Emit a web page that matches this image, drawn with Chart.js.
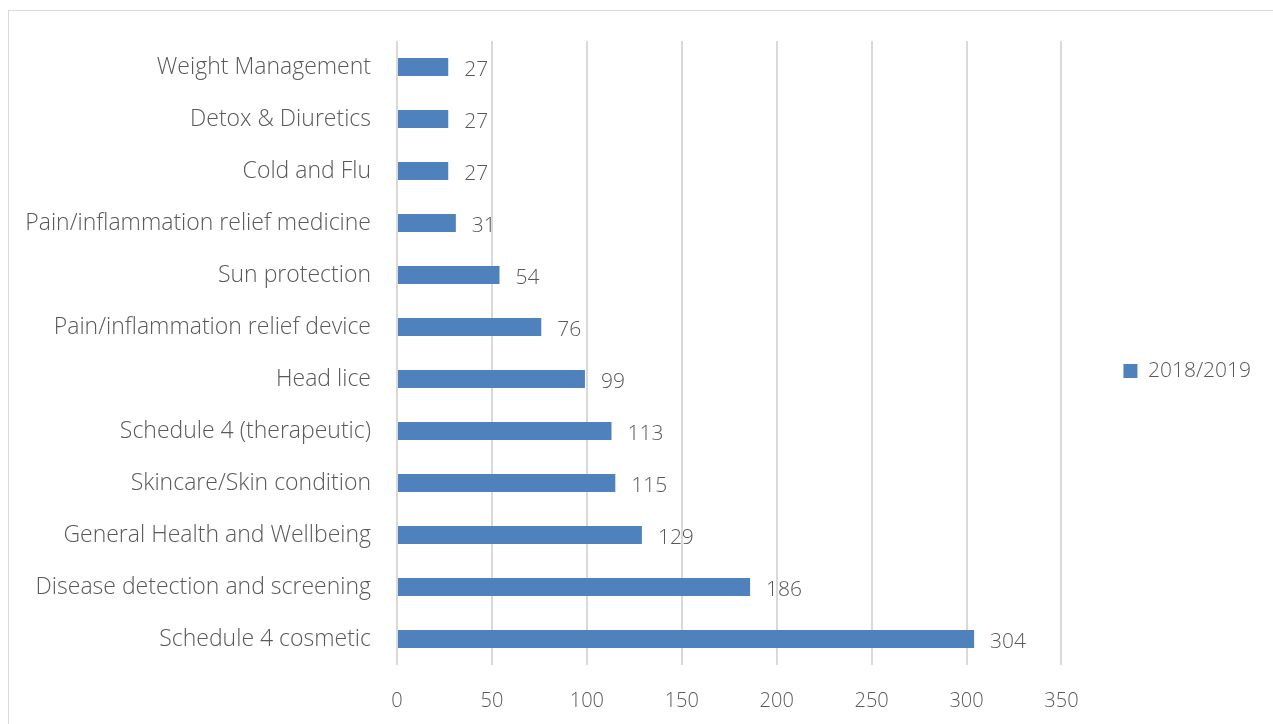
<!DOCTYPE html>
<html>
<head>
<meta charset="utf-8">
<script src="https://cdn.jsdelivr.net/npm/chart.js@4"></script>
<style>
  html, body { margin: 0; padding: 0; background: #fff; overflow: hidden; }
  #frame { position: absolute; left: 8px; top: 10px; width: 1300px; height: 740px; border: 1px solid #d9d9d9; box-sizing: border-box; }
  #wrap { position: absolute; left: 0; top: 0; width: 1273px; height: 724px; overflow: hidden; }
</style>
</head>
<body>
<div id="frame"></div>
<div id="wrap"><canvas id="c" width="1273" height="750"></canvas></div>
<script>
const categories = [
  "Weight Management",
  "Detox & Diuretics",
  "Cold and Flu",
  "Pain/inflammation relief medicine",
  "Sun protection",
  "Pain/inflammation relief device",
  "Head lice",
  "Schedule 4 (therapeutic)",
  "Skincare/Skin condition",
  "General Health and Wellbeing",
  "Disease detection and screening",
  "Schedule 4 cosmetic"
];
const seriesLabel = "2018/2019";
const values = [27, 27, 27, 31, 54, 76, 99, 113, 115, 129, 186, 304];
const xTicks = [0, 50, 100, 150, 200, 250, 300, 350];

const FONT = "'Open Sans'";
const WEIGHT = 300;
const TEXT = "#595959";
const BAR = "#4f81bd";

// Writes each bar's value just past its end
const valueLabels = {
  id: "valueLabels",
  afterDatasetsDraw(chart) {
    const ctx = chart.ctx;
    const meta = chart.getDatasetMeta(0);
    ctx.save();
    ctx.font = WEIGHT + " 21px " + FONT;
    ctx.fillStyle = TEXT;
    ctx.textAlign = "left";
    ctx.textBaseline = "middle";
    meta.data.forEach((bar, i) => {
      ctx.fillText(String(values[i]), bar.x + 16, bar.y + 3);
    });
    ctx.restore();
  }
};

// Leaves a wider gap between the plot and the legend, and lifts the legend a little
const legendOffset = {
  id: "legendOffset",
  afterLayout(chart) {
    const lg = chart.legend;
    if (!lg) return;
    const dx = chart.chartArea.right + 54 - lg.left;
    const dy = -18;
    lg.left += dx; lg.right += dx;
    lg.top += dy; lg.bottom += dy;
  }
};

const fontOf = size => ({ family: FONT, size: size, weight: WEIGHT });

new Chart(document.getElementById("c"), {
  type: "bar",
  data: {
    labels: categories,
    datasets: [{
      label: seriesLabel,
      data: values,
      backgroundColor: BAR,
      borderWidth: 0,
      barPercentage: 0.35,
      categoryPercentage: 1
    }]
  },
  options: {
    indexAxis: "y",
    responsive: false,
    animation: false,
    layout: { padding: { top: 41, right: 66, bottom: 13, left: 0 } },
    plugins: {
      legend: {
        position: "right",
        labels: {
          font: fontOf(21),
          color: TEXT,
          boxWidth: 14,
          boxHeight: 14,
          padding: 8
        }
      },
      tooltip: { enabled: false }
    },
    scales: {
      x: {
        min: 0,
        max: 350,
        afterBuildTicks(scale) { scale.ticks = xTicks.map(v => ({ value: v })); },
        grid: { color: "#d9d9d9", lineWidth: 2, drawTicks: false },
        border: { display: false },
        ticks: { font: fontOf(20), color: TEXT, padding: 24 }
      },
      y: {
        afterFit(scale) { scale.width = 397; },
        grid: { display: false, drawTicks: false },
        border: { display: false },
        ticks: { font: fontOf(23), color: TEXT, padding: 26 }
      }
    }
  },
  plugins: [valueLabels, legendOffset]
});
</script>
</body>
</html>
